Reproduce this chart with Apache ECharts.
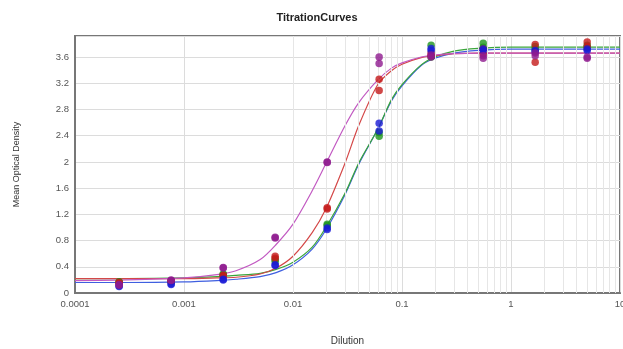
<!DOCTYPE html>
<html>
<head>
<meta charset="utf-8">
<script src="https://cdn.jsdelivr.net/npm/echarts@6/dist/echarts.min.js"></script>
<style>
html,body{margin:0;padding:0;background:#fff;}
#chart{width:623px;height:349px;}
</style>
</head>
<body>
<div id="chart"></div>
<script>
// Sample dilutions (x) for measured points
var dilutions = [0.000254, 0.000762, 0.00229, 0.00686, 0.0206, 0.0617, 0.185, 0.556, 1.667, 5.0];
// Replicate measurements
var purpleRep1 = [0.12, 0.20, 0.39, 0.85, 2.00, 3.60, 3.63, 3.62, 3.66, 3.60];
var purpleRep2 = [0.13, 0.19, 0.38, 0.84, 1.99, 3.50, 3.60, 3.58, 3.62, 3.58];
var redRep1    = [0.15, 0.18, 0.27, 0.56, 1.30, 3.26, 3.66, 3.72, 3.79, 3.83];
var redRep2    = [0.16, 0.18, 0.26, 0.53, 1.28, 3.09, 3.62, 3.65, 3.52, 3.76];
var greenRep1  = [0.17, 0.17, 0.29, 0.51, 1.05, 2.45, 3.78, 3.81, 3.76, 3.78];
var greenRep2  = [0.16, 0.18, 0.28, 0.48, 1.03, 2.39, 3.60, 3.75, 3.72, 3.74];
var blueRep1   = [0.10, 0.14, 0.21, 0.43, 0.99, 2.59, 3.73, 3.72, 3.70, 3.72];
var blueRep2   = [0.11, 0.13, 0.20, 0.42, 0.97, 2.47, 3.70, 3.70, 3.68, 3.70];

// Fitted curves
var curveX      = [0.0001, 0.0003, 0.001, 0.002, 0.003, 0.005, 0.007, 0.01, 0.015, 0.02, 0.03, 0.04, 0.06, 0.08, 0.1, 0.15, 0.2, 0.3, 0.5, 1, 3, 10];
var purpleCurve = [0.19, 0.20, 0.23, 0.28, 0.34, 0.51, 0.74, 1.05, 1.56, 1.97, 2.55, 2.90, 3.25, 3.43, 3.51, 3.60, 3.63, 3.65, 3.66, 3.66, 3.66, 3.66];
var redCurve    = [0.22, 0.22, 0.22, 0.23, 0.24, 0.29, 0.38, 0.56, 0.92, 1.28, 1.98, 2.55, 3.18, 3.39, 3.49, 3.59, 3.62, 3.65, 3.66, 3.66, 3.66, 3.66];
var greenCurve  = [0.22, 0.22, 0.23, 0.25, 0.27, 0.30, 0.36, 0.47, 0.70, 1.00, 1.52, 1.98, 2.50, 2.95, 3.18, 3.48, 3.60, 3.69, 3.73, 3.75, 3.75, 3.75];
var blueCurve   = [0.16, 0.16, 0.17, 0.19, 0.21, 0.25, 0.31, 0.43, 0.67, 0.96, 1.50, 1.96, 2.50, 2.93, 3.16, 3.47, 3.58, 3.66, 3.70, 3.72, 3.72, 3.72];

// Minor log grid positions
var minorGrid = [];
[0.0001, 0.001, 0.01, 0.1, 1].forEach(function (d) {
  for (var k = 2; k <= 9; k++) minorGrid.push(+(d * k).toPrecision(3));
});

function pairs(xs, ys) { return xs.map(function (x, i) { return [x, ys[i]]; }); }

var font = 'Liberation Sans, Arial, sans-serif';
var chart = echarts.init(document.getElementById('chart'));

function curve(name, data, color) {
  return { name: name, type: 'line', data: pairs(curveX, data), smooth: 0.3, showSymbol: false,
           lineStyle: { color: color, width: 1.2 }, z: 3, silent: true };
}
function dots(name, data, color) {
  return { name: name, type: 'scatter', data: pairs(dilutions, data), symbolSize: 7.5,
           itemStyle: { color: color }, z: 5 };
}

chart.setOption({
  animation: false,
  backgroundColor: '#fff',
  title: { text: 'TitrationCurves', left: 312, top: 7, textAlign: 'center',
           textStyle: { fontFamily: font, fontSize: 11, fontWeight: 'bold', color: '#222' } },
  grid: { left: 75, top: 36, right: 3, bottom: 56, show: true, borderColor: '#777', borderWidth: 2,
          backgroundColor: '#fff', containLabel: false, outerBoundsMode: 'none' },
  xAxis: {
    type: 'log', logBase: 10, min: 0.0001, max: 10,
    name: 'Dilution', nameLocation: 'middle', nameGap: 43,
    nameTextStyle: { fontFamily: font, fontSize: 10, color: '#333' },
    axisLine: { show: true, lineStyle: { color: '#777', width: 2 } },
    axisTick: { show: false },
    axisLabel: { fontFamily: font, fontSize: 9.5, color: '#555', margin: 6,
      formatter: function (v) { return String(+v.toPrecision(3)); } },
    splitLine: { show: true, lineStyle: { color: '#dcdcdc', width: 1 } }
  },
  yAxis: {
    type: 'value', min: 0, max: 3.92, interval: 0.4,
    name: 'Mean Optical Density', nameLocation: 'middle', nameGap: 54, nameRotate: 90,
    nameTextStyle: { fontFamily: font, fontSize: 9, color: '#333' },
    axisLine: { show: true, lineStyle: { color: '#777', width: 2 } },
    axisTick: { show: false },
    axisLabel: { fontFamily: font, fontSize: 9.5, color: '#555', margin: 6,
      formatter: function (v) { return v > 3.7 ? '' : String(+v.toFixed(1)); } },
    splitLine: { show: true, lineStyle: { color: '#dcdcdc', width: 1 } }
  },
  series: [
    { name: 'grid', type: 'line', data: [], silent: true, z: 1,
      markLine: { silent: true, symbol: 'none', label: { show: false },
        lineStyle: { color: '#e6e6e6', type: 'solid', width: 1 },
        data: minorGrid.map(function (v) { return { xAxis: v }; }) } },
    curve('Blue fit', blueCurve, '#3f5fe0'),
    curve('Green fit', greenCurve, '#3aa53a'),
    curve('Red fit', redCurve, '#d44848'),
    curve('Purple fit', purpleCurve, '#c25ac2'),
    dots('Green', greenRep1, '#1e951e'),
    dots('Green', greenRep2, '#1e951e'),
    dots('Red', redRep1, '#c41a1a'),
    dots('Red', redRep2, '#c41a1a'),
    dots('Blue', blueRep1, '#1a1ad6'),
    dots('Blue', blueRep2, '#1a1ad6'),
    dots('Purple', purpleRep1, '#8e1a8e'),
    dots('Purple', purpleRep2, '#8e1a8e')
  ]
});
</script>
</body>
</html>
